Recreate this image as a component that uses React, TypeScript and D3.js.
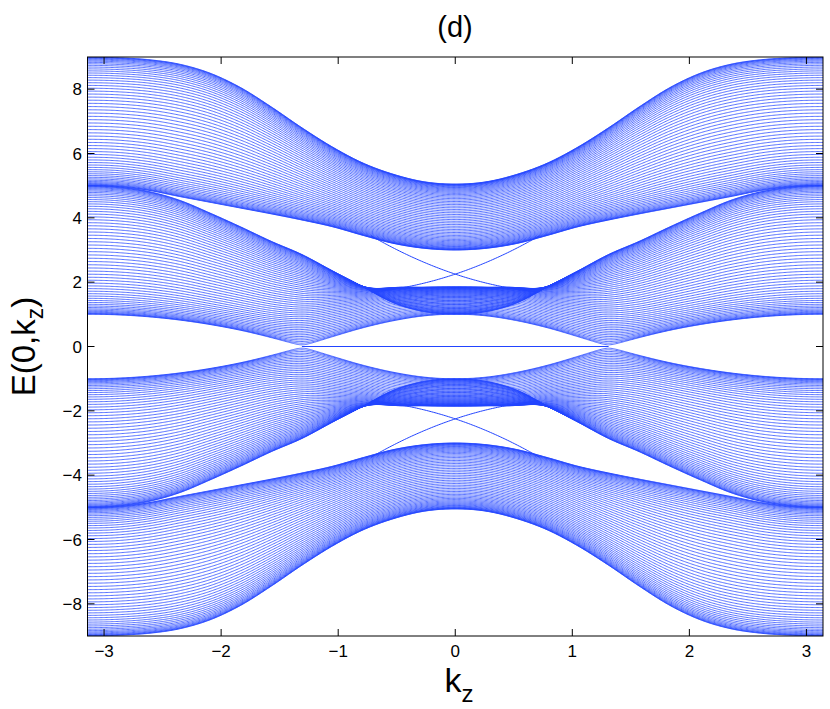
import React, { useMemo } from "react";
import * as d3 from "d3";

const W = 830;
const H = 709;
const PLOT = { left: 87.5, right: 823, top: 57, bottom: 636 };

const kKnots = [0, 0.2618, 0.5236, 0.7854, 1.0472, 1.309, 1.5708, 1.8326, 2.0944, 2.3562, 2.618, 2.8798, 3.1416];
// outer band: upper and lower edge
const outerUpper = [5.05, 5.12, 5.35, 5.7, 6.2, 6.8, 7.45, 8.05, 8.5, 8.78, 8.92, 8.98, 9.0];
const outerLower = [3.0, 3.05, 3.2, 3.45, 3.72, 3.93, 4.12, 4.3, 4.48, 4.66, 4.85, 4.97, 5.0];
// inner band: mode at one slab edge (P), mode at the other slab edge (Q), mid-slab lift (D)
const innerP = [1.0, 1.08, 1.35, 1.85, 2.35, 2.86, 3.27, 3.72, 4.15, 4.55, 4.82, 4.96, 5.0];
const innerQ = [-1.0, -0.95, -0.8, -0.58, -0.3, 0.0, 0.27, 0.5, 0.68, 0.82, 0.92, 0.98, 1.0];
const innerD = [1.85, 1.84, 1.8, 1.58, 1.35, 1.0, 0.75, 0.55, 0.38, 0.24, 0.12, 0.04, 0.0];
// surface states
const fermiArc = [-1.31, 1.31];
const surfaceCross = [2.25, -1.215, 0.614];
const surfaceRange = [-0.72, 0.72];
const nSlab = 60;
const xTicks = [-3, -2, -1, 0, 1, 2, 3];
const yTicks = [-8, -6, -4, -2, 0, 2, 4, 6, 8];

function makeSpline(vals: number[]) {
  const n = kKnots.length;
  const slopes = vals.map((v, i) => {
    if (i === 0 || i === n - 1) return 0;
    return (vals[i + 1] - vals[i - 1]) / (kKnots[i + 1] - kKnots[i - 1]);
  });
  return (kIn: number) => {
    const k = Math.min(Math.abs(kIn), kKnots[n - 1]);
    let i = d3.bisectRight(kKnots, k) - 1;
    if (i < 0) i = 0;
    if (i > n - 2) i = n - 2;
    const h = kKnots[i + 1] - kKnots[i];
    const t = (k - kKnots[i]) / h;
    const t2 = t * t, t3 = t2 * t;
    return (2 * t3 - 3 * t2 + 1) * vals[i] + (t3 - 2 * t2 + t) * h * slopes[i] +
      (-2 * t3 + 3 * t2) * vals[i + 1] + (t3 - t2) * h * slopes[i + 1];
  };
}

export default function App() {
  const x = d3.scaleLinear().domain([-Math.PI, Math.PI]).range([PLOT.left, PLOT.right]);
  const y = d3.scaleLinear().domain([-9, 9]).range([PLOT.bottom, PLOT.top]);

  const paths = useMemo(() => {
    const fU = makeSpline(outerUpper);
    const fL = makeSpline(outerLower);
    const fP = makeSpline(innerP);
    const fQ = makeSpline(innerQ);
    const fD = makeSpline(innerD);
    const ks = d3.range(0, 601).map((i) => -Math.PI + (2 * Math.PI * i) / 600);
    const line = d3.line<[number, number]>().x((d) => x(d[0])).y((d) => y(d[1]));
    const out: string[] = [];
    for (let n = 1; n <= nSlab; n++) {
      const th = (n * Math.PI) / (nSlab + 1);
      const c = Math.cos(th);
      const s = Math.sin(th);
      const frac = (1 - c) / 2;
      const outer: [number, number][] = ks.map((k) => {
        const L = fL(k), U = fU(k);
        return [k, L + (U - L) * frac];
      });
      const inner: [number, number][] = ks.map((k) => {
        const P = fP(k), Q = fQ(k), D = fD(k);
        const a = (P + Q) / 2, b = (P - Q) / 2;
        return [k, Math.sqrt((a + b * c) ** 2 + D * D * s * s)];
      });
      out.push(line(outer)!);
      out.push(line(outer.map((p) => [p[0], -p[1]] as [number, number]))!);
      out.push(line(inner)!);
      out.push(line(inner.map((p) => [p[0], -p[1]] as [number, number]))!);
    }
    return out;
  }, []);

  const surfacePaths = useMemo(() => {
    const line = d3.line<[number, number]>().x((d) => x(d[0])).y((d) => y(d[1]));
    const ks = d3.range(0, 101).map((i) => surfaceRange[0] + ((surfaceRange[1] - surfaceRange[0]) * i) / 100);
    const e = (k: number) => surfaceCross[0] + surfaceCross[1] * k + surfaceCross[2] * k * k;
    const a: [number, number][] = ks.map((k) => [k, e(k)]);
    const b: [number, number][] = ks.map((k) => [k, e(-k)]);
    const res = [a, b, a.map((p) => [p[0], -p[1]] as [number, number]), b.map((p) => [p[0], -p[1]] as [number, number])].map((pts) => line(pts)!);
    res.push(line([[fermiArc[0], 0], [fermiArc[1], 0]])!);
    return res;
  }, []);

  const font = "'Liberation Sans', Arial, Helvetica, sans-serif";
  const lineColor = "#2244ff";
  const tickLen = 7;

  return (
    <svg width={W} height={H} style={{ position: "absolute", left: 0, top: 0, background: "#fff" }} fontFamily={font}>
      <defs>
        <clipPath id="plotClip">
          <rect x={PLOT.left} y={PLOT.top} width={PLOT.right - PLOT.left} height={PLOT.bottom - PLOT.top} />
        </clipPath>
      </defs>
      <rect x={0} y={0} width={W} height={H} fill="#fff" />
      <g clipPath="url(#plotClip)" fill="none" stroke={lineColor} strokeWidth={0.75}>
        {paths.map((d, i) => (
          <path key={i} d={d} />
        ))}
        {surfacePaths.map((d, i) => (
          <path key={"s" + i} d={d} strokeWidth={1} />
        ))}
      </g>
      <rect x={PLOT.left} y={PLOT.top} width={PLOT.right - PLOT.left} height={PLOT.bottom - PLOT.top} fill="none" stroke="#000" strokeWidth={1} />
      {xTicks.map((t) => (
        <g key={"x" + t}>
          <line x1={x(t)} x2={x(t)} y1={PLOT.bottom} y2={PLOT.bottom - tickLen} stroke="#000" />
          <line x1={x(t)} x2={x(t)} y1={PLOT.top} y2={PLOT.top + tickLen} stroke="#000" />
          <text x={x(t)} y={657} textAnchor="middle" fontSize={17}>
            {t < 0 ? "\u2212" + Math.abs(t) : String(t)}
          </text>
        </g>
      ))}
      {yTicks.map((t) => (
        <g key={"y" + t}>
          <line x1={PLOT.left} x2={PLOT.left + tickLen} y1={y(t)} y2={y(t)} stroke="#000" />
          <line x1={PLOT.right} x2={PLOT.right - tickLen} y1={y(t)} y2={y(t)} stroke="#000" />
          <text x={82} y={y(t)} dy="0.36em" textAnchor="end" fontSize={17}>
            {t < 0 ? "\u2212" + Math.abs(t) : String(t)}
          </text>
        </g>
      ))}
      <text x={455} y={37} textAnchor="middle" fontSize={29}>(d)</text>
      <text x={459} y={692} textAnchor="middle" fontSize={34}>
        k<tspan fontSize={24} dy={10}>z</tspan>
      </text>
      <text transform={`translate(35, ${y(0)}) rotate(-90)`} textAnchor="middle" fontSize={33}>
        E(0,k<tspan fontSize={23} dy={8}>z</tspan><tspan dy={-8}>)</tspan>
      </text>
    </svg>
  );
}
